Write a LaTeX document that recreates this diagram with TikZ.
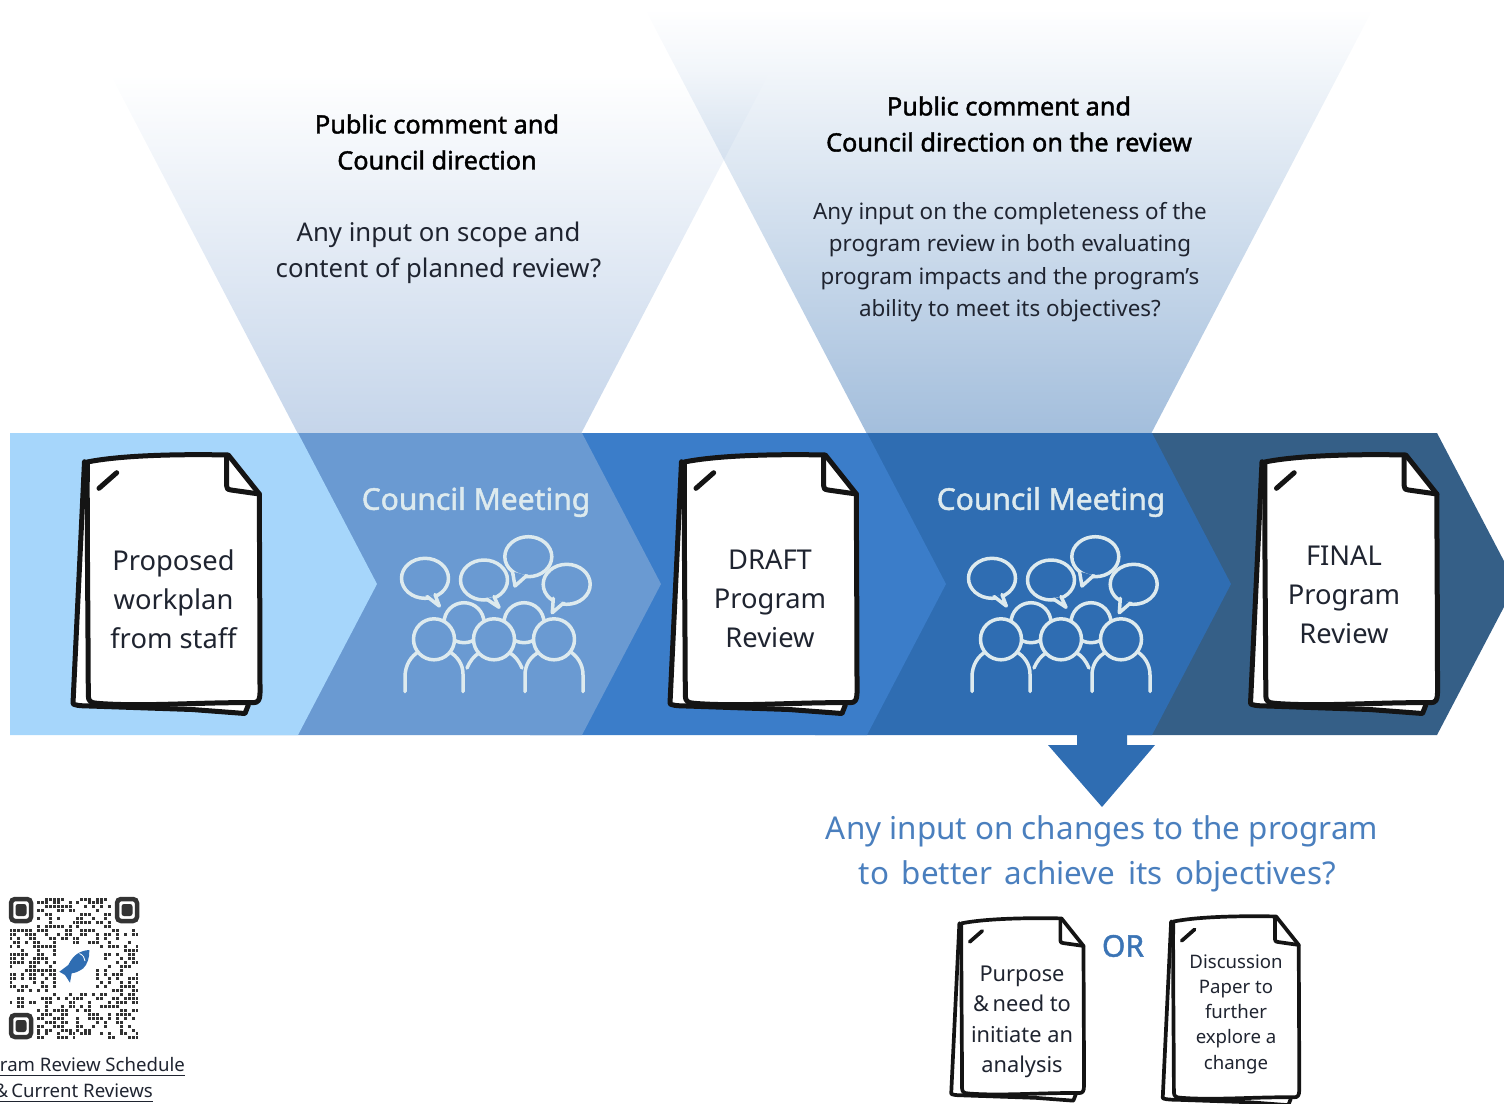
\documentclass[tikz,border=0pt]{standalone}
\usepackage{fontspec}
\setmainfont{Noto Sans}
\newfontfamily\heavyfam{Noto Sans}[FakeBold=1.6]
\usetikzlibrary{fadings}
\definecolor{bandA}{HTML}{A6D6FB}
\definecolor{bandB}{HTML}{6A9AD2}
\definecolor{bandC}{HTML}{3B7DC9}
\definecolor{bandD}{HTML}{2F6DB2}
\definecolor{bandE}{HTML}{355F87}
\definecolor{iconc}{HTML}{DDEAEE}
\definecolor{inkc}{HTML}{1F2430}
\definecolor{asktext}{HTML}{4A7FBE}
\definecolor{orc}{HTML}{3B74B5}
\definecolor{docink}{HTML}{141414}
\definecolor{funnelA}{HTML}{C5D5EA}
\definecolor{funnelB}{HTML}{A3BEDC}
\definecolor{qrc}{HTML}{333333}
\tikzfading[name=downfade, top color=transparent!100, middle color=transparent!72, bottom color=transparent!0]
\tikzset{
  doctext/.style={text=inkc,align=center,font=\fontsize{27.3}{39}\selectfont},
  smalltext/.style={text=inkc,align=center,font=\fontsize{21.8}{30.5}\selectfont},
  tinytext/.style={text=inkc,align=center,font=\fontsize{18.6}{25.2}\selectfont},
  headtext/.style={text=black,align=center,font=\fontsize{25.3}{36}\heavyfam\selectfont},
  bodytext/.style={text=inkc,align=center,font=\fontsize{25.7}{36}\selectfont},
  bodysmall/.style={text=inkc,align=center,font=\fontsize{22.4}{32.5}\selectfont},
  meettext/.style={text=iconc,font=\fontsize{30}{34}\heavyfam\selectfont},
  asktextstyle/.style={text=asktext,align=center,font=\fontsize{31.4}{45}\selectfont},
  linktext/.style={text=inkc,inner sep=0pt,font=\fontsize{18.6}{24}\selectfont},
  iconline/.style={draw=iconc,line width=3.5pt,line cap=round,line join=round},
}
\newcommand{\docicon}[5]{%
\begin{scope}[shift={(#1,#2)},xscale=#3,yscale=#4,draw=docink,line width=#5pt,line join=round,line cap=round]
  \path[fill=white] (12.5,8.7) -- (1,250.3) -- (18,253) -- (173,260.5) -- (176.3,252) -- (188,243) -- (187.3,41) -- (156.3,2) .. controls (110,1) and (50,2) .. (12.5,8.7) -- cycle;
  \draw (12.5,8.7) -- (1,250.3) .. controls (0.8,252) and (8,253) .. (18,253) -- (120,256.5) -- (173,260.5) -- (176.3,252);
  \draw[fill=white] (15.3,9) .. controls (50,2) and (110,1) .. (156.3,2) -- (187.3,41)
     .. controls (187.5,100) and (188,180) .. (188,240) .. controls (188,247) and (186,249.7) .. (181.3,249.7)
     .. controls (130,249) and (70,254) .. (25,250.3) .. controls (19,250) and (16.3,248) .. (16.3,243)
     .. controls (16,160) and (15,80) .. (15.3,9) -- cycle;
  \draw (154.7,3.7) -- (154.7,33) .. controls (154.7,36) and (156,37) .. (159,37) -- (187.3,41);
  \draw (27,35.3) -- (44.7,19.7);
\end{scope}}
\newcommand{\bubble}[9]{%
  \draw[iconline] (#1,#2) ellipse [x radius=#3pt,y radius=#4pt];
  \fill[fill=\icbg] (#5,#6) -- (#7,#8) -- #9 -- cycle;
  \draw[iconline] (#5,#6) -- (#7,#8) -- #9;}
\newcommand{\councilicon}[2]{%
\def\icbg{#2}%
\begin{scope}[shift={(#1,0)}]
  \draw[iconline] (405,691.5) -- (405,677) .. controls (405,665) and (411,656) .. (419,651.5);
  \draw[iconline] (463,691.5) -- (463,674) .. controls (463,664) and (457,656) .. (449,651.5);
  \draw[iconline] (467,668) .. controls (470,661) and (474,656) .. (479,653);
  \draw[iconline] (522,668) .. controls (519,661) and (515,656) .. (510,653);
  \draw[iconline] (525,691.5) -- (525,675) .. controls (525,664) and (531,656) .. (540,651.5);
  \draw[iconline] (583,691.5) -- (583,675) .. controls (583,664) and (577,656) .. (570,651.5);
  \draw[iconline] (464,622.7) circle [radius=20pt];
  \draw[iconline] (524,622.7) circle [radius=20pt];
  \draw[iconline,fill=#2] (434,639.3) circle [radius=20.5pt];
  \draw[iconline,fill=#2] (494,639.3) circle [radius=20.5pt];
  \draw[iconline,fill=#2] (554,639.3) circle [radius=20.5pt];
  \bubble{425}{578.3}{23.5}{20}{427}{596.5}{439.3}{606}{(435,594.5)}
  \bubble{484}{580}{23.5}{20}{486.5}{599}{499}{607.3}{(494,596.5)}
  \bubble{528.3}{556.7}{23.5}{20}{512.5}{571.5}{515}{586}{(526.7,575.5)}
  \bubble{566.7}{584.3}{23.5}{20}{553.3}{598.3}{552.3}{612.7}{(563.5,603)}
\end{scope}}
\newcommand{\finder}[2]{%
  \draw[qrc,line width=4.5pt,rounded corners=4pt] (#1+2,#2+2) rectangle (#1+22,#2+24);
  \fill[qrc,rounded corners=2.5pt] (#1+6.5,#2+7) rectangle (#1+17.5,#2+19);}
\begin{document}
\begin{tikzpicture}[x=1pt,y=-1pt]
\useasboundingbox (0,0) rectangle (1504,1103);
\clip (0,0) rectangle (1504,1103);
% funnels
\fill[funnelA,path fading=downfade] (111,75) -- (769,75) -- (582,433) -- (298,433) -- cycle;
\fill[funnelB,path fading=downfade] (646,10) -- (1373,10) -- (1152,433) -- (867,433) -- cycle;
% band
\fill[bandE] (1100,433) -- (1437,433) -- (1516,584) -- (1437,735) -- (1100,735) -- cycle;
\fill[bandD] (815,433) -- (1152,433) -- (1231,584) -- (1152,735) -- (815,735) -- cycle;
\fill[bandC] (530,433) -- (867,433) -- (946,584) -- (867,735) -- (530,735) -- cycle;
\fill[bandB] (200,433) -- (582,433) -- (661,584) -- (582,735) -- (200,735) -- cycle;
\fill[bandA] (10,433) -- (298,433) -- (377,584) -- (298,735) -- (10,735) -- cycle;
% arrow
\fill[bandD] (1077,733) -- (1127,733) -- (1127,745) -- (1155,745) -- (1102,807) -- (1048,745) -- (1077,745) -- cycle;
% top text
\node[headtext] (headA) at (437,142) {Public comment and\\Council direction};
\node[bodytext] (bodyA) at (438.5,253) {Any input on scope and\\content of planned review?};
\node[headtext] (headB) at (1009,124) {Public comment and\\Council direction on the review};
\node[bodysmall] (bodyB) at (1010,262) {Any input on the completeness of the\\program review in both evaluating\\program impacts and the program’s\\ability to meet its objectives?};
% council
\node[meettext] (meetA) at (476,502) {Council Meeting};
\node[meettext] (meetB) at (1051,502) {Council Meeting};
\councilicon{0}{bandB}
\councilicon{567}{bandD}
% docs
\docicon{72}{453}{1}{1}{5}
\docicon{669}{453}{1}{1}{5}
\docicon{1249.5}{453}{1}{1}{5}
\docicon{950.5}{917}{.71}{.705}{3.7}
\docicon{1162}{915}{.73}{.73}{3.7}
\node[doctext] (docA) at (173.5,599) {Proposed\\workplan\\from staff};
\node[doctext] (docB) at (770,599) {DRAFT\\Program\\Review};
\node[doctext] (docC) at (1344,595) {FINAL\\Program\\Review};
\node[asktextstyle] (ask) at (1102,853.5) {Any input on changes to the program\\{\spaceskip=12.5pt to better achieve its objectives?}\hspace*{9pt}};
\node[text=orc,font=\fontsize{30}{36}\heavyfam\selectfont] (orword) at (1123,946) {OR};
\node[smalltext] (docD) at (1022,1022) {Purpose\\\&\,need to\\initiate an\\analysis};
\node[tinytext] (docE) at (1236,1014) {Discussion\\Paper to\\further\\explore a\\change};
% QR
\begin{scope}
\pgfmathsetseed{4711}
\foreach \cx in {0,...,32}{
  \foreach \cy in {0,...,35}{
    \pgfmathrandominteger{\qrbit}{0}{99}
    \pgfmathtruncatemacro{\skipcell}{((\cx<7 && \cy<8)||(\cx>25 && \cy<8)||(\cx<7 && \cy>27)||(\cx>11 && \cx<22 && \cy>11 && \cy<24)) ? 1 : 0}
    \ifnum\skipcell=0\relax
      \ifnum\qrbit<45\relax
        \fill[qrc] ({9+\cx*3.94+.5},{897+\cy*3.97+.5}) rectangle ({9+\cx*3.94+3.4},{897+\cy*3.97+3.5});
      \fi
    \fi
  }
}
\end{scope}
\finder{9}{897}
\finder{115}{897}
\finder{9}{1013}
\fill[bandD] (59.3,971.7) -- (68.3,965) .. controls (73,955) and (80,950.5) .. (89.3,950) .. controls (90,957) and (87,965) .. (83.3,968.3) .. controls (79,971.5) and (75,973) .. (71.7,973.3) -- (70,982.7) -- (65,975) -- cycle;
\draw[white,line width=.8pt] (79.5,953.5) .. controls (83,955) and (85,958) .. (85,961);
% link
\node[linktext,anchor=base east] (linkA) at (185,1071) {gram Review Schedule};
\node[linktext,anchor=base east] (linkB) at (153,1097) {\&\,Current Reviews};
\draw[inkc,line width=1pt] ([yshift=-4pt]linkA.base west) -- ([yshift=-4pt]linkA.base east);
\draw[inkc,line width=1pt] ([yshift=-4pt]linkB.base west) -- ([yshift=-4pt]linkB.base east);
\end{tikzpicture}
\end{document}
